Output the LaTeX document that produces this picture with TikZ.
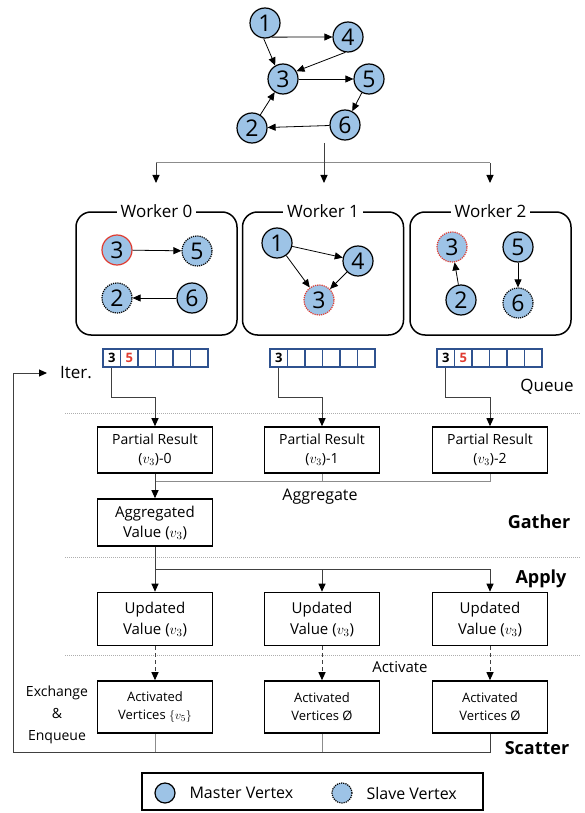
\documentclass[tikz,border=0pt]{standalone}
\usepackage{fontspec}
\setmainfont{Open Sans}
\usetikzlibrary{arrows.meta}
\definecolor{vfill}{HTML}{9DC3E6}
\definecolor{vred}{HTML}{E03C31}
\definecolor{qblue}{HTML}{2F528F}
\definecolor{lgray}{HTML}{8C8C8C}
\begin{document}
\begin{tikzpicture}[x=1pt, y=-1pt,
    master/.style ={circle, draw, line width=1.2pt, fill=vfill, inner sep=0pt, minimum size=30pt, font=\fontsize{23}{23}\selectfont},
    slave/.style ={master, densely dotted},
    edge/.style ={line width=0.8pt, -{Triangle[length=8pt,width=7pt]}},
    worker/.style ={draw, line width=1.5pt, rounded corners=15pt, minimum width=161pt, minimum height=123pt},
    wtitle/.style ={fill=white, inner sep=4pt, font=\fontsize{17}{17}\selectfont},
    cell/.style ={draw=qblue, line width=1.2pt, minimum width=17.5pt, minimum height=18pt, inner sep=0pt, font=\bfseries\fontsize{13}{13}\selectfont},
    stepbox/.style ={draw, line width=1.6pt, minimum width=115pt, minimum height=46pt, align=center, inner sep=2pt, font=\fontsize{14}{19}\selectfont},
    conn/.style ={line width=1pt, black!75},
    gconn/.style ={line width=1pt, lgray},
    tip/.style ={-{Triangle[length=8pt,width=7pt,color=black]}},
    sep/.style ={lgray!70, line width=1pt, densely dotted},
    phase/.style ={font=\bfseries\fontsize{18}{18}\selectfont},
    lbl/.style ={font=\fontsize{16}{16}\selectfont}]
   \useasboundingbox[fill=white] (0,0) rectangle (585,813);

   % input graph
   \node[master] (n1) at (265,23)  {1};
   \node[master] (n4) at (348,37)  {4};
   \node[master] (n3) at (283,79)  {3};
   \node[master] (n5) at (369,79)  {5};
   \node[master] (n6) at (345,125) {6};
   \node[master] (n2) at (252,128) {2};
   \draw[edge] (n1.-65) -- (n4.west);
   \draw[edge] (n1.-95) -- (n3.120);
   \draw[edge] (n4.-100) -- (n3.30);
   \draw[edge] (n3) -- (n5);
   \draw[edge] (n5) -- (n6);
   \draw[edge] (n6) -- (n2);
   \draw[edge] (n2) -- (n3);

   % partition
   \coordinate (gout) at (324,143);
   \coordinate (fan)  at (324,163);
   \coordinate (in0)  at (156,183);
   \coordinate (in1)  at (324,183);
   \coordinate (in2)  at (490,183);
   \draw[gconn] (in0 |- fan) -- (in2 |- fan);
   \draw[conn,tip] (gout) -- (in1);
   \draw[conn,tip] (in0 |- fan) -- (in0);
   \draw[conn,tip] (in2 |- fan) -- (in2);

   \node[worker] (w0) at (156.5,273.5) {};
   \node[worker] (w1) at (323,273.5)   {};
   \node[worker] (w2) at (490.5,273.5) {};
   \node[wtitle] (t0) at (w0.north) {Worker 0};
   \node[wtitle] (t1) at (w1.north) {Worker 1};
   \node[wtitle] (t2) at (w2.north) {Worker 2};

   \node[master, draw=vred] (w0v3) at (117,250) {3};
   \node[slave]  (w0v5) at (197,251) {5};
   \node[slave]  (w0v2) at (117,298) {2};
   \node[master] (w0v6) at (192,298) {6};
   \draw[edge] (w0v3) -- (w0v5);
   \draw[edge] (w0v6) -- (w0v2);

   \node[master] (w1v1) at (277,243) {1};
   \node[master] (w1v4) at (358,261) {4};
   \node[slave, draw=vred] (w1v3) at (319,300) {3};
   \draw[edge] (w1v1) -- (w1v4);
   \draw[edge] (w1v1) -- (w1v3);
   \draw[edge] (w1v4) -- (w1v3);

   \node[slave, draw=vred] (w2v3) at (452,247) {3};
   \node[master] (w2v5) at (518,247) {5};
   \node[master] (w2v2) at (461,300) {2};
   \node[slave]  (w2v6) at (518,303) {6};
   \draw[edge] (w2v2) -- (w2v3);
   \draw[edge] (w2v5) -- (w2v6);

   % queues
   \foreach \qq/\qx/\qs in {0/103/5,1/270/{},2/437/5}
     \foreach \ci/\ct in {1/3,2/{\color{vred}\qs},3/{},4/{},5/{},6/{}}
       \node[cell] (q\qq-\ci) at ({\qx+17.5*\ci-8.75},358) {\ct};
   \node[lbl, anchor=west, inner sep=0pt, font=\fontsize{17}{17}\selectfont] (iter) at (60,373) {Iter.};
   \node[lbl, font=\fontsize{17}{17}\selectfont] (queue) at (547,387) {Queue};

   \draw[sep] (65,413) -- (580,413);
   \draw[sep] (65,557) -- (580,557);
   \draw[sep] (65,655) -- (580,655);

   % gather
   \node[stepbox] (p0) at (155,450) {Partial Result\\($v_3$)-0};
   \node[stepbox] (p1) at (322,450) {Partial Result\\($v_3$)-1};
   \node[stepbox] (p2) at (490,450) {Partial Result\\($v_3$)-2};
   \draw[conn,tip] (q0-1.south) -- ++(0,30) -| (p0.north);
   \draw[conn,tip] (q1-1.south) -- ++(0,30) -| (p1.north);
   \draw[conn,tip] (q2-1.south) -- ++(0,30) -| (p2.north);

   \node[stepbox, minimum height=47pt, font=\fontsize{15}{20}\selectfont] (agg) at (155,522.5) {Aggregated\\Value ($v_3$)};
   \coordinate (ag) at (155,481);
   \draw[gconn] (p1.south) |- (ag);
   \draw[gconn] (p2.south) |- (ag);
   \draw[conn,tip] (p0.south) -- (agg.north);
   \node[lbl] (aggl) at (320,497) {Aggregate};
   \node[phase] (gather) at (539,522) {Gather};

   % apply
   \node[stepbox, minimum height=53pt, font=\fontsize{15}{21}\selectfont] (u0) at (155,619) {Updated\\Value ($v_3$)};
   \node[stepbox, minimum height=53pt, font=\fontsize{15}{21}\selectfont] (u1) at (322,619) {Updated\\Value ($v_3$)};
   \node[stepbox, minimum height=53pt, font=\fontsize{15}{21}\selectfont] (u2) at (490,619) {Updated\\Value ($v_3$)};
   \coordinate (ap) at (155,569);
   \draw[conn] (agg.south) -- (ap);
   \draw[conn,tip] (ap) -- (u0.north);
   \draw[conn,tip] (ap) -| (u1.north);
   \draw[conn,tip] (ap) -| (u2.north);
   \node[phase] (apply) at (541,579) {Apply};

   % scatter
   \node[stepbox, minimum height=52pt, font=\fontsize{13}{18}\selectfont] (x0) at (155,707) {Activated\\Vertices $\{v_5\}$};
   \node[stepbox, minimum height=52pt, font=\fontsize{13}{18}\selectfont] (x1) at (322,707) {Activated\\Vertices Ø};
   \node[stepbox, minimum height=52pt, font=\fontsize{13}{18}\selectfont] (x2) at (490,707) {Activated\\Vertices Ø};
   \draw[conn, dash pattern=on 4pt off 3pt, tip] (u0.south) -- (x0.north);
   \draw[conn, dash pattern=on 4pt off 3pt, tip] (u1.south) -- (x1.north);
   \draw[conn, dash pattern=on 4pt off 3pt, tip] (u2.south) -- (x2.north);
   \node[lbl, font=\fontsize{15}{15}\selectfont] (act) at (400,667) {Activate};
   \node[align=center, font=\fontsize{14}{22}\selectfont] (exch) at (57,715) {Exchange\\\&\\Enqueue};
   \coordinate (sc) at (13,752);
   \draw[gconn] (x0.south) -- (x0.south |- sc);
   \draw[gconn] (x1.south) -- (x1.south |- sc);
   \draw[conn,tip] (x2.south) |- (sc) |- ([xshift=-13pt]iter.west);
   \node[phase] (scatter) at (537,748) {Scatter};

   % legend
   \node[draw, line width=1.2pt, minimum width=341pt, minimum height=37pt] (legend) at (312.5,791.5) {};
   \node[master, minimum size=20pt] (lm) at (165,793) {};
   \node[lbl, anchor=west] (lmt) at (186,793) {Master Vertex};
   \node[slave, minimum size=20pt] (ls) at (342,793) {};
   \node[lbl, anchor=west] (lst) at (363,793) {Slave Vertex};
 \end{tikzpicture}
\end{document}
